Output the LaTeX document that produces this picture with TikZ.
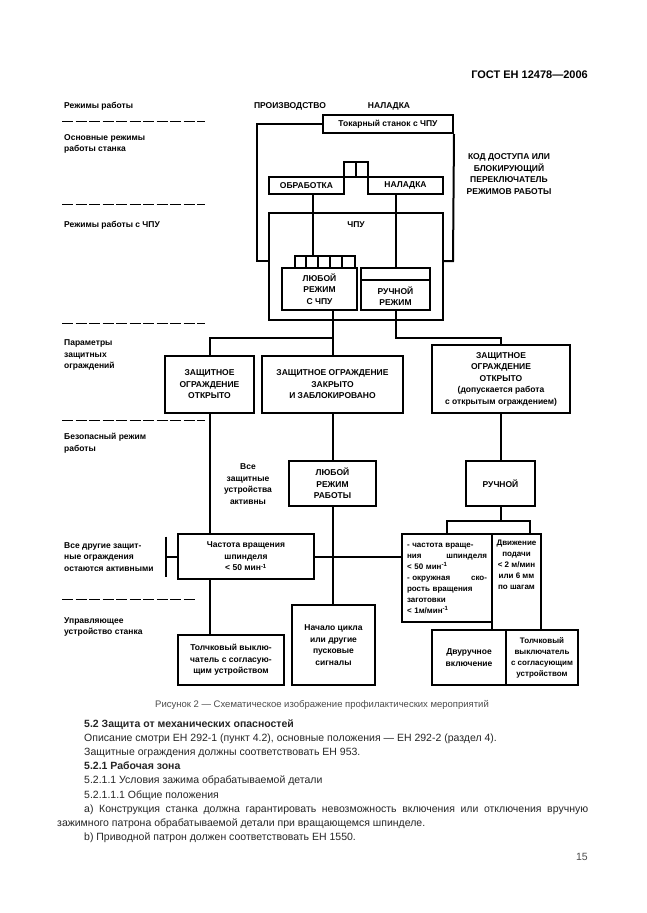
\documentclass[tikz,border=0pt]{standalone}
\usepackage{fontspec}
\setmainfont{Liberation Sans}
\usepackage{tikz}
\usetikzlibrary{shapes,arrows}
\newcommand{\dgfont}{\fontsize{8.5}{11.5}\selectfont\bfseries}
\newcommand{\dgsmall}{\fontsize{8}{11}\selectfont\bfseries}
\newcommand{\bodyfont}{\fontsize{10.5}{14}\selectfont}
\tikzstyle{blk} = [rectangle, draw=black, line width=2pt, inner sep=0pt, align=center, font=\dgfont]
\tikzstyle{txt} = [inner sep=0pt, align=center, font=\dgfont]
\tikzstyle{lbl} = [anchor=west, align=left, inner sep=0pt, font=\dgfont]
\tikzstyle{wire} = [line width=2pt]
\tikzstyle{sep} = [line width=1pt, dash pattern=on 11pt off 2.5pt]
\tikzstyle{body} = [anchor=base west, inner sep=0pt, text=black!85, font=\bodyfont]

\begin{document}
\begin{tikzpicture}[x=1pt, y=-1pt]
        \fill[white] (0,0) rectangle (646,913);
        \useasboundingbox (0,0) rectangle (646,913);
        % header
        \node (gost) [anchor=east, inner sep=0pt, font=\fontsize{11}{13}\selectfont\bfseries] at (588,75) {ГОСТ ЕН 12478—2006};
        % left column
        \node (lmodes) [lbl] at (64,106) {Режимы работы};
        \node (lbase) [lbl] at (64,144) {Основные режимы\\работы станка};
        \node (lcnc) [lbl] at (64,225) {Режимы работы с ЧПУ};
        \node (lguard) [lbl] at (64,355) {Параметры\\защитных\\ограждений};
        \node (lsafe) [lbl] at (64,443) {Безопасный режим\\работы};
        \node (lother) [lbl] at (64,557) {Все другие защит-\\ные ограждения\\остаются активными};
        \node (lctrl) [lbl] at (64,627) {Управляющее\\устройство станка};
        \foreach \y in {121,204,323,420}
            \draw [sep] (62,\y) -- (205,\y);
        \draw [sep] (62,599) -- (195,599);
        % top part
        \node (prod) [txt] at (290,106) {ПРОИЗВОДСТВО};
        \node (setl) [txt] at (389,106) {НАЛАДКА};
        \node (lathe) [blk, minimum width=130, minimum height=18] at (388,124) {Токарный станок с ЧПУ};
        \node (code) [txt] at (509,174) {КОД ДОСТУПА ИЛИ\\БЛОКИРУЮЩИЙ\\ПЕРЕКЛЮЧАТЕЛЬ\\РЕЖИМОВ РАБОТЫ};
        \node (keys) [blk, minimum width=24, minimum height=15] at (356,169.5) {};
        \draw [wire] (keys.north) -- (keys.south);
        \node (proc) [blk, minimum width=75, minimum height=17] at (306.5,185.5) {ОБРАБОТКА};
        \node (setup) [blk, minimum width=75, minimum height=17] at (405.5,185.5) {НАЛАДКА};
        \node (cnc) [blk, minimum width=174, minimum height=107] at (356,266.5) {};
        \node (cnclbl) [txt] at (356,225) {ЧПУ};
        \node (slots) [blk, minimum width=60, minimum height=12] at (325,262) {};
        \foreach \i in {1,...,4}
            \draw [wire] ([xshift={12pt*\i}]slots.north west) -- ([xshift={12pt*\i}]slots.south west);
        \node (anycnc) [blk, minimum width=75, minimum height=42] at (319.5,289) {ЛЮБОЙ\\РЕЖИМ\\С ЧПУ};
        \node (manual) [blk, minimum width=69, minimum height=42] at (395.5,289) {};
        \draw [wire] ([yshift=-13pt]manual.north west) -- ([yshift=-13pt]manual.north east);
        \node (mantext) [txt] at (395.5,296) {РУЧНОЙ\\РЕЖИМ};
        \coordinate (lhook) at (257,261);
        \coordinate (rhook) at (453,261);
        \draw [wire] (lathe.west) -| (lhook) -- (lhook -| cnc.west);
        \draw [wire] (lathe.south east) -- (rhook) -- (rhook -| cnc.east);
        \draw [wire] ([xshift=6.5pt]proc.south) -- ([xshift=-12pt]slots.north);
        \draw [wire] ([xshift=-9.5pt]setup.south) -- ([xshift=0.5pt]manual.north);
        % guard parameters
        \node (open) [blk, minimum width=89, minimum height=57] at (209.5,384.5) {ЗАЩИТНОЕ\\ОГРАЖДЕНИЕ\\ОТКРЫТО};
        \node (closed) [blk, minimum width=141, minimum height=57] at (332.5,384.5) {ЗАЩИТНОЕ ОГРАЖДЕНИЕ\\ЗАКРЫТО\\И ЗАБЛОКИРОВАНО};
        \node (openw) [blk, minimum width=138, minimum height=68] at (501,379) {ЗАЩИТНОЕ\\ОГРАЖДЕНИЕ\\ОТКРЫТО\\(допускается работа\\с открытым ограждением)};
        \coordinate (fork) at (332.5,338);
        \draw [wire] (closed.north |- anycnc.south) -- (closed.north);
        \draw [wire] (open.north) |- (fork);
        \draw [wire] (manual.south) -- (manual.south |- fork) -| (openw.north);
        % safe modes
        \node (allact) [txt] at (248,484) {Все\\защитные\\устройства\\активны};
        \node (anymode) [blk, minimum width=87, minimum height=45] at (332.5,483.5) {ЛЮБОЙ\\РЕЖИМ\\РАБОТЫ};
        \node (hand) [blk, minimum width=69, minimum height=45] at (500.5,483.5) {РУЧНОЙ};
        \node (freq) [blk, minimum width=136, minimum height=45] at (246,556.5) {Частота вращения\\шпинделя\\< 50 мин\textsuperscript{-1}};
        \node (spin) [blk, minimum width=90, minimum height=88, text width=80, align=left, font=\dgsmall] at (447,578) {- частота враще-\\ния\hfill шпинделя\\< 50 мин\textsuperscript{-1}\\- окружная\hfill ско-\\рость вращения\\заготовки\\< 1м/мин\textsuperscript{-1}};
        \node (feed) [blk, minimum width=49, minimum height=96] at (516.5,582) {};
        \node (feedtxt) [txt, font=\dgsmall] at (516.5,565) {Движение\\подачи\\< 2 м/мин\\или 6 мм\\по шагам};
        \draw [wire] (open.south) -- (open.south |- freq.north);
        \draw [wire] (closed.south) -- (anymode.north);
        \draw [wire] (openw.south) -- (openw.south |- hand.north);
        \draw [wire] (hand.south) -- ++(0,14) coordinate (hsplit);
        \draw [wire] (spin.north) |- (hsplit) -| ([xshift=13.5pt]feed.north);
        \draw [wire] (freq.east) -- (freq.east -| spin.west);
        \draw [wire] (freq.west) -- ++(-11,0) coordinate (fbar);
        \draw [wire] ([yshift=20pt]fbar) -- ([yshift=-20pt]fbar);
        % control devices
        \node (jog) [blk, minimum width=106, minimum height=50] at (231,660) {Толчковый выклю-\\чатель с согласую-\\щим устройством};
        \node (start) [blk, minimum width=83, minimum height=80] at (333.5,645) {Начало цикла\\или другие\\пусковые\\сигналы};
        \node (twohand) [blk, minimum width=74, minimum height=55] at (469,657.5) {Двуручное\\включение};
        \node (jog2) [blk, minimum width=72, minimum height=55, font=\dgsmall] at (542,657.5) {Толчковый\\выключатель\\с согласующим\\устройством};
        \draw [wire] (open.south |- freq.south) -- (open.south |- jog.north);
        \draw [wire] (anymode.south) -- (anymode.south |- start.north);
        % caption and text
        \node (caption) [inner sep=0pt, text=black!70, font=\fontsize{9.5}{11}\selectfont] at (322,705) {Рисунок 2 — Схематическое изображение профилактических мероприятий};
        \node (t1) [body, font=\bodyfont\bfseries] at (84,727) {5.2 Защита от механических опасностей};
        \node (t2) [body] at (84,741.2) {Описание смотри ЕН 292-1 (пункт 4.2), основные положения — ЕН 292-2 (раздел 4).};
        \node (t3) [body] at (84,755.4) {Защитные ограждения должны соответствовать ЕН 953.};
        \node (t4) [body, font=\bodyfont\bfseries] at (84,769.6) {5.2.1 Рабочая зона};
        \node (t5) [body] at (84,783.8) {5.2.1.1 Условия зажима обрабатываемой детали};
        \node (t6) [body] at (84,798) {5.2.1.1.1 Общие положения};
        \node (t7) [body] at (84,812.2) {\makebox[504pt][s]{а) Конструкция станка должна гарантировать невозможность включения или отключения вручную}};
        \node (t8) [body] at (57,826.4) {зажимного патрона обрабатываемой детали при вращающемся шпинделе.};
        \node (t9) [body] at (84,840.6) {b) Приводной патрон должен соответствовать ЕН 1550.};
        \node (page) [anchor=base east, inner sep=0pt, text=black!70, font=\bodyfont] at (588,860) {15};
    \end{tikzpicture}
\end{document}
